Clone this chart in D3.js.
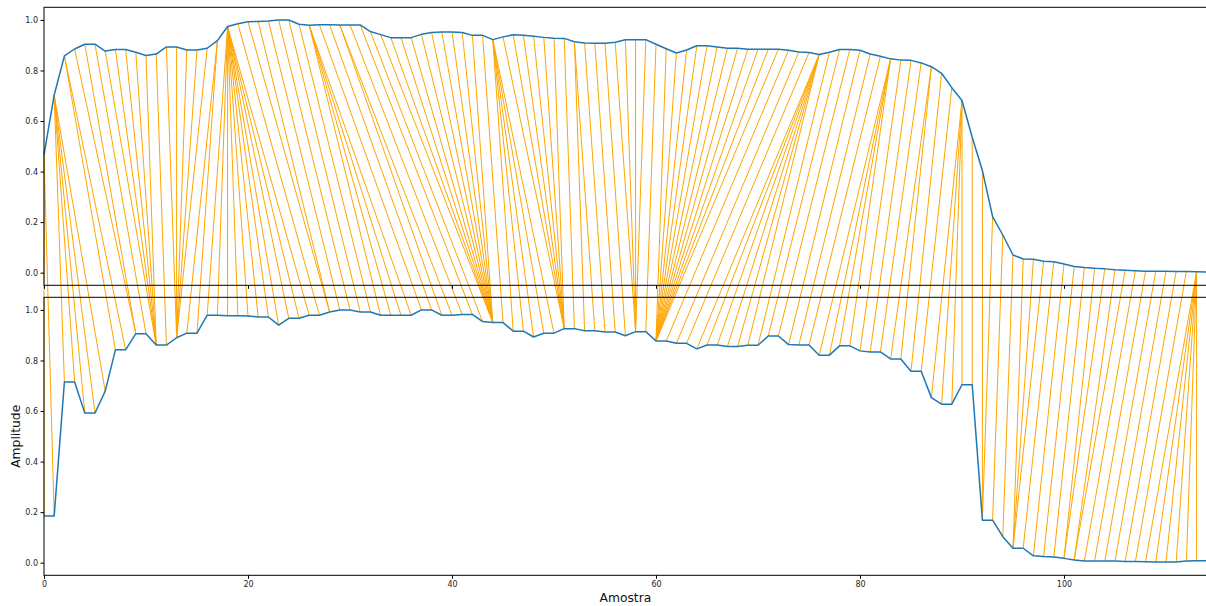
<!DOCTYPE html>
<html>
<head>
<meta charset="utf-8">
<script src="https://cdn.jsdelivr.net/npm/d3@7"></script>
<style>
  body { margin: 0; background: #fff; }
  svg { display: block; font-family: "DejaVu Sans", sans-serif; }
</style>
</head>
<body>
<svg id="chart"></svg>
<script>
// top series (query)
const seriesTop = [
  0.466, 0.703, 0.858, 0.885, 0.904, 0.904, 0.877, 0.883, 0.883, 0.872,
  0.859, 0.865, 0.893, 0.893, 0.881, 0.881, 0.888, 0.918, 0.974, 0.985,
  0.993, 0.994, 0.996, 1.000, 1.000, 0.983, 0.979, 0.981, 0.981, 0.980,
  0.980, 0.980, 0.954, 0.942, 0.930, 0.930, 0.930, 0.943, 0.950, 0.952,
  0.952, 0.950, 0.939, 0.939, 0.922, 0.933, 0.941, 0.939, 0.935, 0.931,
  0.928, 0.927, 0.914, 0.909, 0.908, 0.908, 0.912, 0.922, 0.922, 0.922,
  0.904, 0.886, 0.869, 0.881, 0.898, 0.898, 0.893, 0.888, 0.888, 0.884,
  0.884, 0.884, 0.884, 0.880, 0.873, 0.871, 0.863, 0.872, 0.883, 0.883,
  0.880, 0.865, 0.856, 0.846, 0.841, 0.840, 0.830, 0.815, 0.789, 0.732,
  0.681, 0.536, 0.404, 0.222, 0.149, 0.070, 0.054, 0.053, 0.045, 0.043,
  0.034, 0.024, 0.020, 0.017, 0.015, 0.012, 0.010, 0.008, 0.006, 0.006,
  0.006, 0.005, 0.005, 0.004, 0.002
];

// bottom series (reference)
const seriesBottom = [
  0.185, 0.185, 0.715, 0.715, 0.592, 0.592, 0.679, 0.842, 0.842, 0.906,
  0.906, 0.861, 0.861, 0.890, 0.908, 0.908, 0.979, 0.979, 0.977, 0.977,
  0.976, 0.972, 0.972, 0.940, 0.967, 0.967, 0.979, 0.979, 0.992, 1.000,
  1.000, 0.992, 0.992, 0.979, 0.979, 0.979, 0.979, 1.000, 1.000, 0.979,
  0.979, 0.982, 0.982, 0.954, 0.950, 0.950, 0.916, 0.916, 0.893, 0.908,
  0.908, 0.926, 0.926, 0.918, 0.918, 0.913, 0.913, 0.898, 0.914, 0.914,
  0.877, 0.877, 0.868, 0.868, 0.846, 0.861, 0.861, 0.855, 0.855, 0.860,
  0.860, 0.897, 0.897, 0.863, 0.861, 0.861, 0.821, 0.821, 0.858, 0.858,
  0.838, 0.834, 0.834, 0.806, 0.806, 0.757, 0.757, 0.653, 0.627, 0.627,
  0.704, 0.704, 0.168, 0.168, 0.103, 0.057, 0.057, 0.027, 0.024, 0.022,
  0.017, 0.011, 0.007, 0.007, 0.007, 0.007, 0.005, 0.005, 0.004, 0.003,
  0.003, 0.003, 0.007, 0.008, 0.008
];

const xTicks = [0, 20, 40, 60, 80, 100];
const yTicks = [0.0, 0.2, 0.4, 0.6, 0.8, 1.0];
const xLabel = "Amostra";
const yLabel = "Amplitude";

const width = 1206;
const height = 606;

const svg = d3.select("#chart")
  .attr("width", width)
  .attr("height", height);

const x = d3.scaleLinear().domain([0, 114]).range([44, 1206.8]);
const yTop = d3.scaleLinear().domain([-0.05, 1.05]).range([285.3, 7.3]);
const yBot = d3.scaleLinear().domain([-0.05, 1.05]).range([575.3, 297.3]);

// dynamic time warping path between the two series (abs distance)
function dtwPath(a, b) {
  const n = a.length, m = b.length;
  const D = Array.from({length: n}, () => new Float64Array(m).fill(Infinity));
  for (let i = 0; i < n; i++) {
    for (let j = 0; j < m; j++) {
      const c = Math.abs(a[i] - b[j]);
      if (i === 0 && j === 0) { D[i][j] = c; continue; }
      let best = Infinity;
      if (i > 0 && j > 0) best = Math.min(best, D[i - 1][j - 1]);
      if (i > 0) best = Math.min(best, D[i - 1][j]);
      if (j > 0) best = Math.min(best, D[i][j - 1]);
      D[i][j] = c + best;
    }
  }
  const path = [[n - 1, m - 1]];
  let i = n - 1, j = m - 1;
  while (i > 0 || j > 0) {
    if (i === 0) j--;
    else if (j === 0) i--;
    else {
      const d = D[i - 1][j - 1], u = D[i - 1][j], l = D[i][j - 1];
      if (d <= u && d <= l) { i--; j--; }
      else if (u <= l) i--;
      else j--;
    }
    path.push([i, j]);
  }
  return path.reverse();
}

const path = dtwPath(seriesTop, seriesBottom);

// connection lines
svg.append("g")
  .selectAll("line")
  .data(path)
  .join("line")
  .attr("x1", d => x(d[0]))
  .attr("y1", d => yTop(seriesTop[d[0]]))
  .attr("x2", d => x(d[1]))
  .attr("y2", d => yBot(seriesBottom[d[1]]))
  .attr("stroke", "orange")
  .attr("stroke-width", 1);

const line = (ys) => d3.line().x((d, i) => x(i)).y(d => ys(d));

const panels = [
  {data: seriesTop, y: yTop, labels: false},
  {data: seriesBottom, y: yBot, labels: true}
];

panels.forEach(p => {
  const g = svg.append("g");
  g.append("path")
    .datum(p.data)
    .attr("fill", "none")
    .attr("stroke", "#1f77b4")
    .attr("stroke-width", 1.5)
    .attr("stroke-linejoin", "round")
    .attr("d", line(p.y));

  const yAxis = d3.axisLeft(p.y).tickValues(yTicks).tickFormat(d3.format(".1f"))
    .tickSize(3.5).tickPadding(2.5);
  g.append("g")
    .attr("transform", `translate(${x.range()[0]},0)`)
    .call(yAxis)
    .call(a => a.select(".domain").remove())
    .call(a => a.selectAll("text").attr("font-size", 8).attr("fill", "#262626").attr("font-family", "DejaVu Sans"));

  const xAxis = d3.axisBottom(x).tickValues(xTicks).tickSize(3.5).tickPadding(2.5);
  g.append("g")
    .attr("transform", `translate(0,${p.y.range()[0]})`)
    .call(xAxis)
    .call(a => a.select(".domain").remove())
    .call(a => a.selectAll("text")
      .attr("font-size", 8).attr("fill", "#262626").attr("font-family", "DejaVu Sans")
      .style("display", p.labels ? null : "none"));

  // spines
  const [y0, y1] = p.y.range();
  g.append("rect")
    .attr("x", x.range()[0])
    .attr("y", y1)
    .attr("width", x.range()[1] - x.range()[0])
    .attr("height", y0 - y1)
    .attr("fill", "none")
    .attr("stroke", "#000")
    .attr("stroke-width", 1);
});

svg.append("text")
  .attr("x", (x.range()[0] + x.range()[1]) / 2)
  .attr("y", 602)
  .attr("text-anchor", "middle")
  .attr("font-size", 12.3)
  .attr("fill", "#111")
  .text(xLabel);

svg.append("text")
  .attr("transform", `translate(20,${(yBot.range()[0] + yBot.range()[1]) / 2}) rotate(-90)`)
  .attr("text-anchor", "middle")
  .attr("font-size", 12.3)
  .attr("fill", "#111")
  .text(yLabel);
</script>
</body>
</html>
